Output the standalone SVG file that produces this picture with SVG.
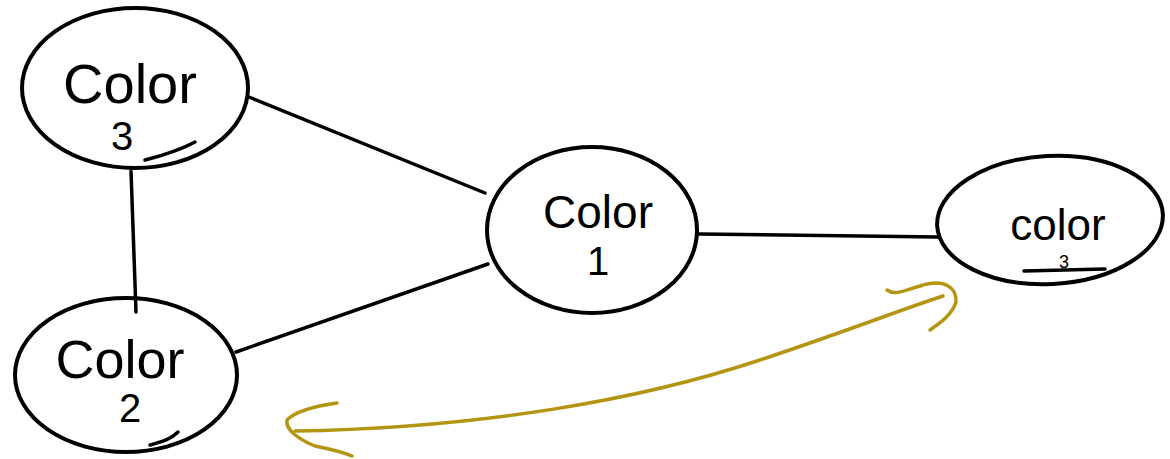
<svg xmlns="http://www.w3.org/2000/svg" width="1170" height="459" viewBox="0 0 1170 459">
<style>
.node{fill:none;stroke:#000;stroke-width:4}
.edge{fill:none;stroke:#000;stroke-width:3.5;stroke-linecap:round}
.gold{fill:none;stroke:#b39512;stroke-width:3.5;stroke-linecap:round;stroke-linejoin:round}
.lbl{font-family:"Liberation Sans","DejaVu Sans",sans-serif;fill:#000;text-anchor:middle}
</style>
<rect width="1170" height="459" fill="#fff"/>
<g id="connectors">
<path class="edge" d="M249,97 L485,193"/>
<path class="edge" d="M131,171 L136,312"/>
<path class="edge" d="M236,352 L488,264"/>
<path class="edge" d="M699,234 L938,237"/>
</g>
<g id="arrow">
<path class="gold" d="M295,431 C480,428 640,400 760,360 C850,330 900,310 943,296"/>
<path class="gold" d="M337,403 C315,406 295,412 287,420 C285,430 300,440 315,446 C335,450 345,453 352,456"/>
<path class="gold" d="M887,290 C895,296 905,290 920,286 C945,278 957,288 956,302 C952,315 940,323 930,330"/>
</g>
<g id="node-color3-left">
<ellipse class="node" cx="135" cy="88" rx="113" ry="80"/>
<path class="edge" d="M145,160 C165,155 180,150 195,142" stroke-width="3"/>
<text class="lbl" x="130" y="103" font-size="56">Color</text>
<text class="lbl" x="122" y="150" font-size="40">3</text>
</g>
<g id="node-color2">
<ellipse class="node" cx="126" cy="375" rx="111" ry="77"/>
<path class="edge" d="M150,445 C160,442 170,440 178,432" stroke-width="3"/>
<text class="lbl" x="120" y="378" font-size="54">Color</text>
<text class="lbl" x="130" y="422" font-size="40">2</text>
</g>
<g id="node-color1">
<ellipse class="node" cx="592" cy="230" rx="105" ry="83"/>
<text class="lbl" x="598" y="228" font-size="46">Color</text>
<text class="lbl" x="598" y="275" font-size="40">1</text>
</g>
<g id="node-color3-right">
<ellipse class="node" cx="1050" cy="220" rx="113" ry="64" transform="rotate(-3 1050 220)"/>
<text class="lbl" x="1058" y="240" font-size="44">color</text>
<text class="lbl" x="1064" y="268" font-size="18">3</text>
<path class="edge" d="M1024,271 L1105,269"/>
</g>
</svg>
